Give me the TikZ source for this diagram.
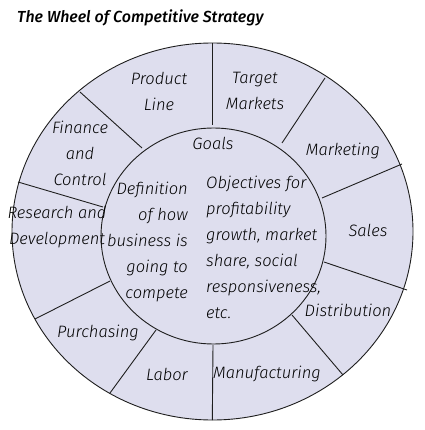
\documentclass[tikz,border=0pt]{standalone}
\usepackage{fontspec}
\newfontfamily\hand{Fira Sans Light Italic}
\newfontfamily\handbold{Fira Sans Medium Italic}
\definecolor{wheelfill}{HTML}{DEDEEE}
\definecolor{wheelline}{HTML}{1E1E1E}
\begin{document}
\begin{tikzpicture}[x=1pt,y=-1pt,
  lbl/.style={font=\hand\fontsize{16.5}{26}\selectfont, text=black, inner sep=0pt, align=center},
  ring/.style={draw=wheelline, line width=0.9pt, fill=wheelfill},
  spoke/.style={draw=wheelline, line width=0.9pt}]
\useasboundingbox (0,0) rectangle (424,430);
% outer wheel
\path[ring] (212.5,231.5) ellipse [x radius=200.5, y radius=188.5];
% spokes
\draw[spoke] (212.3,43) -- (212.3,125);
\draw[spoke] (80,92) -- (142,148);
\draw[spoke] (18,182) -- (103,207);
\draw[spoke] (110,281) -- (35,319);
\draw[spoke] (156,330) -- (110,393);
\draw[spoke] (213,345) -- (212.3,420);
\draw[spoke] (292,315) -- (343,375);
\draw[spoke] (324,262) -- (407,290);
\draw[spoke] (322,198) -- (402,164);
\draw[spoke] (282,143) -- (325,78);
% inner circle
\path[ring] (213.5,236) ellipse [x radius=112.5, y radius=108];
% title
\node[font=\handbold\fontsize{16}{20}\selectfont, anchor=west, inner sep=0pt] (title) at (17,18) {The Wheel of Competitive Strategy};
% outer labels
\node[lbl] (product) at (159,91) {Product\\Line};
\node[lbl] (target) at (255,91) {Target\\Markets};
\node[lbl] (marketing) at (343,151) {Marketing};
\node[lbl] (sales) at (368,230) {Sales};
\node[lbl] (distribution) at (348,310) {Distribution};
\node[lbl] (manufacturing) at (267,374) {Manufacturing};
\node[lbl] (labor) at (167,374) {Labor};
\node[lbl] (purchasing) at (98,333) {Purchasing};
\node[lbl] (research) at (57,227) {Research and\\Development};
\node[lbl] (finance) at (80,153) {Finance\\and\\Control};
% inner labels
\node[lbl] (goals) at (213,143) {Goals};
\node[lbl, align=right, anchor=east] (definition) at (188,241.5) {Definition\\of how\\business is\\going to\\compete};
\node[lbl, align=left, anchor=west] (objectives) at (206,247.5) {Objectives for\\profitability\\growth, market\\share, social\\responsiveness,\\etc.};
\end{tikzpicture}
\end{document}
